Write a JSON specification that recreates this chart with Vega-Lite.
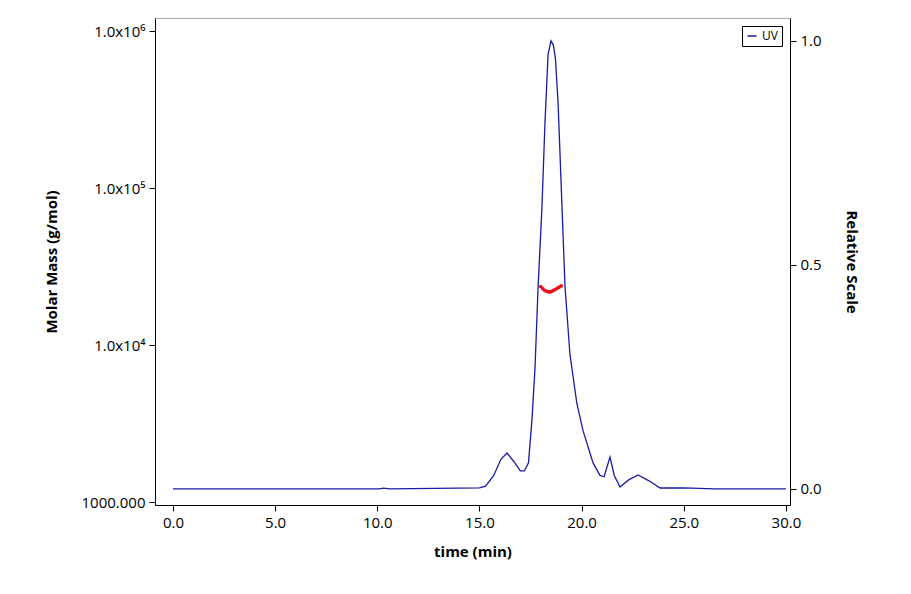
{
  "$schema": "https://vega.github.io/schema/vega-lite/v6.json",
  "width": 635,
  "height": 487,
  "autosize": "none",
  "padding": {"left": 155, "top": 18, "right": 121, "bottom": 89},
  "datasets": {
    "uv": [
      {"t": 0.0, "v": 0.0},
      {"t": 10.1, "v": 0.0},
      {"t": 10.3, "v": 0.0015},
      {"t": 10.6, "v": 0.0},
      {"t": 15.0, "v": 0.002},
      {"t": 15.3, "v": 0.006},
      {"t": 15.7, "v": 0.03},
      {"t": 16.05, "v": 0.066},
      {"t": 16.35, "v": 0.08},
      {"t": 16.7, "v": 0.06},
      {"t": 17.0, "v": 0.04},
      {"t": 17.2, "v": 0.04},
      {"t": 17.4, "v": 0.058},
      {"t": 17.57, "v": 0.154},
      {"t": 17.72, "v": 0.27},
      {"t": 17.87, "v": 0.45},
      {"t": 18.06, "v": 0.63},
      {"t": 18.21, "v": 0.82},
      {"t": 18.36, "v": 0.97},
      {"t": 18.5, "v": 1.0},
      {"t": 18.62, "v": 0.99},
      {"t": 18.72, "v": 0.96},
      {"t": 18.85, "v": 0.86},
      {"t": 19.04, "v": 0.63},
      {"t": 19.19, "v": 0.45},
      {"t": 19.43, "v": 0.3},
      {"t": 19.77, "v": 0.19},
      {"t": 20.07, "v": 0.13},
      {"t": 20.56, "v": 0.058},
      {"t": 20.9, "v": 0.03},
      {"t": 21.1, "v": 0.027},
      {"t": 21.39, "v": 0.071},
      {"t": 21.6, "v": 0.03},
      {"t": 21.88, "v": 0.004},
      {"t": 22.3, "v": 0.02},
      {"t": 22.76, "v": 0.031},
      {"t": 23.3, "v": 0.018},
      {"t": 23.84, "v": 0.002},
      {"t": 25.0, "v": 0.002},
      {"t": 26.5, "v": 0.0},
      {"t": 30.0, "v": 0.0}
    ],
    "mm": [
      {"t": 18.0, "m": 23600},
      {"t": 18.1, "m": 22900},
      {"t": 18.2, "m": 22300},
      {"t": 18.3, "m": 22000},
      {"t": 18.4, "m": 21800},
      {"t": 18.5, "m": 21900},
      {"t": 18.6, "m": 22200},
      {"t": 18.7, "m": 22600},
      {"t": 18.8, "m": 23000},
      {"t": 18.9, "m": 23400},
      {"t": 19.0, "m": 23800}
    ]
  },
  "layer": [
    {
      "data": {"name": "mm"},
      "mark": {"type": "point", "filled": true, "size": 14, "color": "#e8141b", "opacity": 1},
      "encoding": {
        "x": {"field": "t", "type": "quantitative", "scale": {"domain": [-0.88, 30.2], "nice": false},
          "axis": {"title": "time (min)", "values": [0, 5, 10, 15, 20, 25, 30], "format": ".1f", "grid": false, "titlePadding": 14}},
        "y": {"field": "m", "type": "quantitative",
          "scale": {"type": "log", "domain": [960, 1210000], "nice": false},
          "axis": {"title": "Molar Mass (g/mol)", "values": [1000, 10000, 100000, 1000000], "grid": false, "titlePadding": 22,
            "labelExpr": "datum.value == 1000 ? '1000.000' : datum.value == 10000 ? '1.0x10⁴' : datum.value == 100000 ? '1.0x10⁵' : '1.0x10⁶'"}}
      }
    },
    {
      "data": {"name": "uv"},
      "mark": {"type": "line", "color": "#1a1aa6", "strokeWidth": 1.3},
      "encoding": {
        "x": {"field": "t", "type": "quantitative"},
        "y": {"field": "v", "type": "quantitative", "scale": {"domain": [-0.036, 1.051], "nice": false, "zero": false},
          "axis": {"orient": "right", "title": "Relative Scale", "values": [0, 0.5, 1], "format": ".1f", "grid": false, "titleAngle": 90, "titlePadding": 22}},
        "stroke": {"datum": "UV", "type": "nominal", "scale": {"range": ["#1a1aa6"]},
          "legend": {"title": null, "orient": "top-right", "strokeColor": "#000", "padding": 4, "offset": 8, "symbolType": "stroke", "symbolSize": 80, "labelFontSize": 12, "fillColor": "white"}}
      }
    }
  ],
  "resolve": {"scale": {"y": "independent"}},
  "config": {
    "font": "Open Sans",
    "view": {"stroke": "#aaa"},
    "axis": {"labelFontSize": 15, "titleFontSize": 15, "titleFontWeight": "bold", "labelColor": "#000", "titleColor": "#000", "domainColor": "#000", "tickColor": "#000", "tickSize": 6, "labelPadding": 4}
  }
}
